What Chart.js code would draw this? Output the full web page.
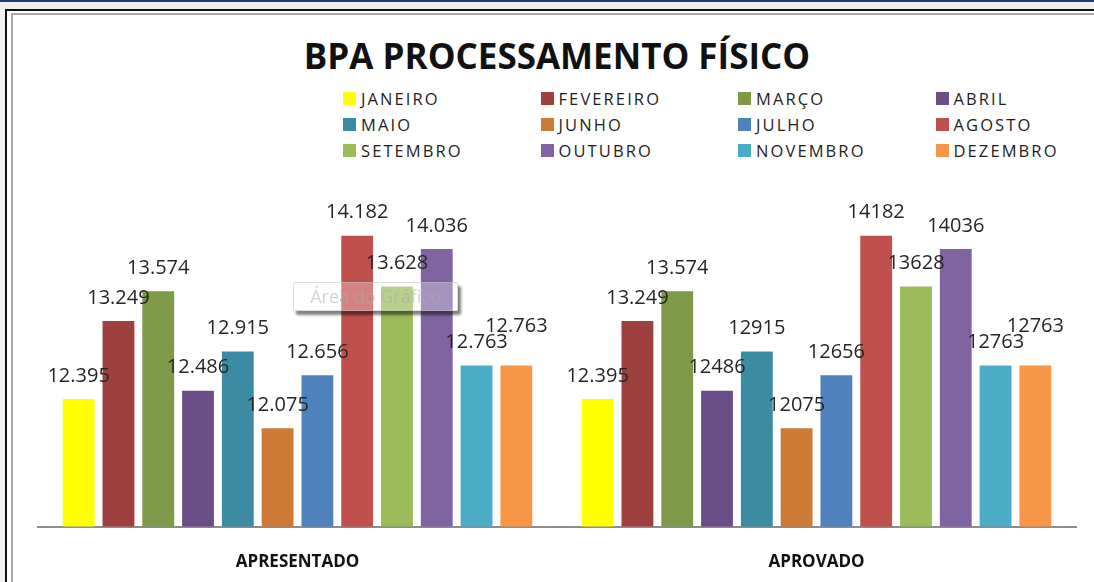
<!DOCTYPE html>
<html>
<head>
<meta charset="utf-8">
<script src="https://cdn.jsdelivr.net/npm/chart.js@4.4.1/dist/chart.umd.min.js"></script>
<style>
  html, body { margin: 0; padding: 0; }
  body { width: 1094px; height: 582px; position: relative; overflow: hidden; background: #f0f0f0; font-family: "Open Sans", sans-serif; }
  #topline { position: absolute; left: 0; top: 0; width: 1094px; height: 2px; background: #1f3d7a; }
  #frame { position: absolute; left: 5px; top: 9px; width: 1100px; height: 600px; border-left: 2px solid #111; border-top: 2px solid #111; background: #fff; }
  #inner { position: absolute; left: 4px; top: 2px; width: 1100px; height: 600px; border-left: 2px solid #a8a8a8; border-top: 2px solid #a8a8a8; }
  #title { position: absolute; left: 0; width: 1114px; top: 34px; text-align: center; font-weight: 700; font-size: 35px; line-height: 44px; color: #111; }
  #legend { position: absolute; left: 343px; top: 85px; display: grid; grid-template-columns: repeat(4, 197.5px); grid-auto-rows: 26px; }
  .item { display: flex; align-items: center; font-size: 16.5px; letter-spacing: 2.1px; color: #1e1e1e; white-space: nowrap; }
  .box { width: 13px; height: 13px; margin-right: 5px; flex: none; }
  #tip { position: absolute; left: 293px; top: 282px; width: 163px; height: 27px; border: 1px solid rgba(190,190,190,0.5); border-radius: 2px;
         background: rgba(255,255,255,0.3); box-shadow: 3px 4px 3px rgba(0,0,0,0.5); color: rgba(170,170,170,0.5); font-size: 18px; line-height: 27px; text-align: center; }
  canvas { position: absolute; left: 0; top: 0; }
</style>
</head>
<body>
<div id="topline"></div>
<div id="frame"><div id="inner"></div></div>
<div id="title">BPA PROCESSAMENTO FÍSICO</div>
<div id="legend"></div>
<canvas id="chart" width="1094" height="620"></canvas>
<div id="tip">Área do Gráfico</div>
<script>
// Data
const categories = ["APRESENTADO", "APROVADO"];
const months = ["JANEIRO", "FEVEREIRO", "MARÇO", "ABRIL", "MAIO", "JUNHO", "JULHO", "AGOSTO", "SETEMBRO", "OUTUBRO", "NOVEMBRO", "DEZEMBRO"];
const apresentado = [12395, 13249, 13574, 12486, 12915, 12075, 12656, 14182, 13628, 14036, 12763, 12763];
const aprovado = [12395, 13249, 13574, 12486, 12915, 12075, 12656, 14182, 13628, 14036, 12763, 12763];
const apresentadoText = ["12.395", "13.249", "13.574", "12.486", "12.915", "12.075", "12.656", "14.182", "13.628", "14.036", "12.763", "12.763"];
const aprovadoText = ["12.395", "13.249", "13.574", "12486", "12915", "12075", "12656", "14182", "13628", "14036", "12763", "12763"];
const colors = ["#ffff00", "#9d403e", "#7e9a48", "#6a4f87", "#3b8ca2", "#cd7a37", "#4f81bd", "#c0504d", "#9bbb59", "#8064a2", "#4bacc6", "#f79646"];

// Legend (3 rows x 4 cols)
const legend = document.getElementById("legend");
months.forEach((m, i) => {
  const d = document.createElement("div");
  d.className = "item";
  d.innerHTML = `<span class="box" style="background:${colors[i]}"></span>${m}`;
  legend.appendChild(d);
});

// Value labels above the bars
const valueLabels = {
  id: "valueLabels",
  afterDatasetsDraw(chart) {
    const ctx = chart.ctx;
    ctx.save();
    ctx.font = '20px "Open Sans", sans-serif';
    ctx.fillStyle = "#262626";
    ctx.textAlign = "center";
    ctx.textBaseline = "middle";
    chart.data.datasets.forEach((ds, i) => {
      const meta = chart.getDatasetMeta(i);
      const lift = i === 11 ? 39 : 23;
      meta.data.forEach((bar, j) => {
        const txt = j === 0 ? apresentadoText[i] : aprovadoText[i];
        ctx.fillText(txt, bar.x, bar.y - lift);
      });
    });
    ctx.restore();
  },
};

const ctx = document.getElementById("chart").getContext("2d");
const chart = new Chart(ctx, {
  type: "bar",
  data: {
    labels: categories,
    datasets: months.map((m, i) => ({
      label: m,
      data: [apresentado[i], aprovado[i]],
      backgroundColor: colors[i],
      categoryPercentage: 0.92,
      barPercentage: 0.8,
    })),
  },
  options: {
    responsive: false,
    animation: false,
    layout: { padding: { left: 38, right: 18, top: 161, bottom: 23 } },
    plugins: { legend: { display: false }, tooltip: { enabled: false } },
    scales: {
      x: {
        grid: { display: false, drawTicks: false },
        border: { display: true, color: "#8c8c8c", width: 2 },
        ticks: { color: "#111", padding: 25, font: { family: "Open Sans", size: 17, weight: "bold" } },
      },
      y: { display: false, min: 11000, max: 15000 },
    },
  },
  plugins: [valueLabels],
});
</script>
</body>
</html>
